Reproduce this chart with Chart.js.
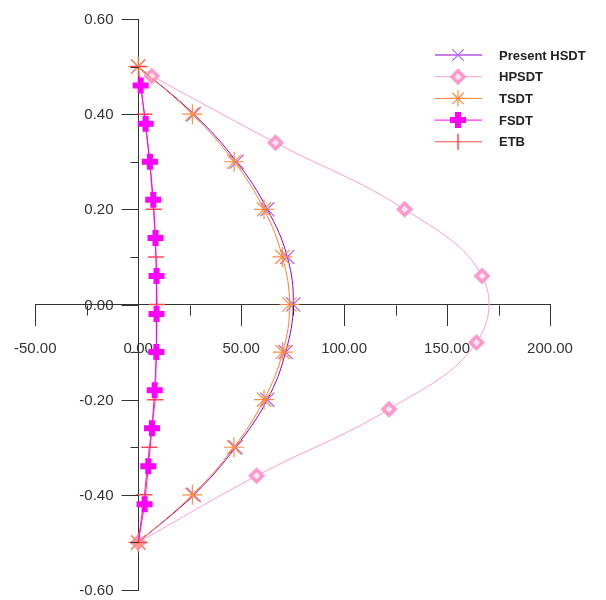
<!DOCTYPE html>
<html>
<head>
<meta charset="utf-8">
<script src="https://cdn.jsdelivr.net/npm/chart.js@4.4.1/dist/chart.umd.min.js"></script>
<style>
    body { margin: 0; background: #ffffff; }
    #wrap { width: 606px; height: 600px; position: relative; }
</style>
</head>
<body>
<div id="wrap"><canvas id="stressChart"></canvas></div>
<script>
// through-thickness levels (z/h)
const zLevels = [0.5, 0.4, 0.3, 0.2, 0.1, 0, -0.1, -0.2, -0.3, -0.4, -0.5];
const presentHsdt = [0, 27, 47.8, 62.7, 72.4, 75.3, 71.6, 62.7, 47.3, 27, 0];
const tsdt = [0, 26.3, 46.6, 61.1, 70, 73.5, 70.2, 61.1, 46.5, 26.3, 0];
const etb = [0, 3, 5.5, 7.5, 8.6, 9.2, 8.8, 8.3, 5.4, 3, 0];

const hpsdtZ = [0.48, 0.34, 0.2, 0.06, -0.08, -0.22, -0.36, -0.5];
const hpsdt = [6.6, 66.7, 129.4, 167, 164.3, 121.8, 57.5, 0];

const fsdtZ = [0.46, 0.38, 0.30, 0.22, 0.14, 0.06, -0.02, -0.10, -0.18, -0.26, -0.34, -0.42, -0.50];
const fsdt = [1.2, 3.6, 5.7, 7.3, 8.4, 8.9, 8.9, 8.8, 8.0, 6.7, 4.9, 3.1, 0];

const xTicks = [-50, 0, 50, 100, 150, 200];
const yTicks = [-0.6, -0.4, -0.2, 0, 0.2, 0.4, 0.6];

const FONT = '"Liberation Sans", Arial, sans-serif';

function pts(xs, zs) {
    return xs.map((v, i) => ({ x: v, y: zs[i] }));
}

// draws the legend box in the top right corner
const legendPlugin = {
    id: 'sideLegend',
    afterDraw(chart) {
        const ctx = chart.ctx;
        chart.data.datasets.forEach((ds, i) => {
            const y = 55 + i * 21.7;
            ctx.save();
            ctx.strokeStyle = ds.borderColor;
            ctx.lineWidth = 1;
            ctx.beginPath();
            ctx.moveTo(435, y);
            ctx.lineTo(482, y);
            ctx.stroke();
            ctx.strokeStyle = ds.pointBorderColor;
            ctx.fillStyle = ds.pointBackgroundColor;
            ctx.lineWidth = ds.pointBorderWidth;
            Chart.helpers.drawPoint(ctx, {
                pointStyle: ds.pointStyle,
                radius: ds.legendRadius,
                borderWidth: ds.pointBorderWidth,
                rotation: ds.legendRotation || 0
            }, 458, y);
            ctx.fillStyle = '#222222';
            ctx.font = 'bold 13px ' + FONT;
            ctx.textBaseline = 'middle';
            ctx.fillText(ds.label, 499, y + 1);
            ctx.restore();
        });
    }
};

// minor ticks on both axes + y tick labels left of the crossing axis
const axisExtras = {
    id: 'axisExtras',
    afterDraw(chart) {
        const ctx = chart.ctx;
        const xs = chart.scales.x, ys = chart.scales.y;
        const x0 = Math.round(xs.getPixelForValue(0)) + 0.5;
        const y0 = Math.round(ys.getPixelForValue(0)) + 0.5;
        ctx.save();
        ctx.strokeStyle = '#333333';
        ctx.lineWidth = 1;
        ctx.beginPath();
        [-25, 25, 75, 125, 175].forEach(v => {
            const px = Math.round(xs.getPixelForValue(v)) + 0.5;
            ctx.moveTo(px, y0);
            ctx.lineTo(px, y0 + 10);
        });
        [-0.5, -0.3, -0.1, 0.1, 0.3, 0.5].forEach(v => {
            const py = Math.round(ys.getPixelForValue(v)) + 0.5;
            ctx.moveTo(x0 - 8, py);
            ctx.lineTo(x0, py);
        });
        yTicks.forEach(v => {
            const py = Math.round(ys.getPixelForValue(v)) + 0.5;
            ctx.moveTo(x0 - 17, py);
            ctx.lineTo(x0, py);
        });
        ctx.stroke();
        ctx.fillStyle = '#333333';
        ctx.font = '15px ' + FONT;
        ctx.textAlign = 'right';
        ctx.textBaseline = 'middle';
        yTicks.forEach(v => {
            const py = ys.getPixelForValue(v);
            const txt = Math.abs(v) < 1e-9 ? '0.00' : v.toFixed(2);
            ctx.fillText(txt, x0 - 25, py + 1);
        });
        ctx.restore();
    }
};

const ctx = document.getElementById('stressChart');

new Chart(ctx, {
    type: 'scatter',
    data: {
        datasets: [
            {
                label: 'Present HSDT',
                data: pts(presentHsdt, zLevels),
                showLine: true,
                tension: 0.4,
                borderColor: '#9400d3',
                borderWidth: 1,
                pointStyle: 'crossRot',
                pointRadius: 10,
                legendRadius: 8,
                pointBorderColor: '#b060f0',
                pointBackgroundColor: '#b060f0',
                pointBorderWidth: 1.2,
                order: 5
            },
            {
                label: 'HPSDT',
                data: pts(hpsdt, hpsdtZ),
                showLine: true,
                tension: 0.4,
                borderColor: '#ff9fd0',
                borderWidth: 1,
                pointStyle: 'rectRot',
                pointRadius: 6,
                legendRadius: 6,
                pointBorderColor: '#ff99cc',
                pointBackgroundColor: '#ffe6f2',
                pointBorderWidth: 3.5,
                order: 4
            },
            {
                label: 'TSDT',
                data: pts(tsdt, zLevels),
                showLine: true,
                tension: 0.4,
                borderColor: '#ff8030',
                borderWidth: 1,
                pointStyle: 'star',
                pointRadius: 10,
                legendRadius: 8,
                pointBorderColor: '#ff8c40',
                pointBackgroundColor: '#ff6000',
                pointBorderWidth: 1.2,
                order: 3
            },
            {
                label: 'FSDT',
                data: pts(fsdt, fsdtZ),
                showLine: true,
                tension: 0,
                borderColor: '#ff00ff',
                borderWidth: 1,
                pointStyle: 'cross',
                pointRadius: fsdt.map((v, i) => i === fsdt.length - 1 ? 0 : 8),
                legendRadius: 8,
                pointBorderColor: '#ff00ff',
                pointBackgroundColor: '#ff00ff',
                pointBorderWidth: 6,
                order: 1
            },
            {
                label: 'ETB',
                data: pts(etb, zLevels),
                showLine: true,
                tension: 0,
                borderColor: '#ff4a4a',
                borderWidth: 1,
                pointStyle: 'line',
                legendRotation: 90,
                pointRadius: 8,
                legendRadius: 8,
                pointBorderColor: '#ff4a4a',
                pointBackgroundColor: '#ff4a4a',
                pointBorderWidth: 1.5,
                order: 2
            }
        ]
    },
    options: {
        responsive: true,
        maintainAspectRatio: false,
        animation: false,
        layout: {
            autoPadding: false,
            padding: { left: 35, right: 56, top: 19, bottom: 10 }
        },
        plugins: {
            legend: { display: false },
            tooltip: { enabled: false }
        },
        scales: {
            x: {
                type: 'linear',
                position: { y: 0 },
                min: xTicks[0],
                max: xTicks[xTicks.length - 1],
                afterBuildTicks: axis => {
                    axis.ticks = xTicks.map(v => ({ value: v }));
                },
                border: { display: true, color: '#333333', width: 1 },
                grid: {
                    drawOnChartArea: false,
                    drawTicks: true,
                    tickLength: 21,
                    tickColor: '#333333'
                },
                ticks: {
                    color: '#333333',
                    padding: 14,
                    maxRotation: 0,
                    font: { family: FONT, size: 15 },
                    callback: v => Number(v).toFixed(2)
                }
            },
            y: {
                type: 'linear',
                position: { x: 0 },
                min: yTicks[0],
                max: yTicks[yTicks.length - 1],
                border: { display: true, color: '#333333', width: 1 },
                grid: { display: false },
                ticks: { display: false }
            }
        }
    },
    plugins: [axisExtras, legendPlugin]
});
</script>
</body>
</html>
